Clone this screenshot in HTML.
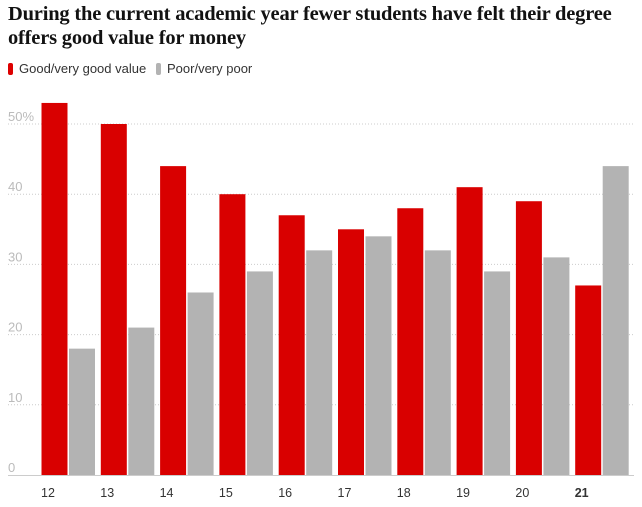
<!DOCTYPE html>
<html><head><meta charset="utf-8"><style>
body{margin:0;background:#fff;width:642px;height:507px;overflow:hidden;font-family:"Liberation Sans",sans-serif}
h1{position:absolute;left:8px;top:2px;margin:0;font-family:"Liberation Serif",serif;font-weight:bold;font-size:20.5px;line-height:24px;color:#121212;width:630px;letter-spacing:-0.2px}
.leg{position:absolute;top:61px;font-size:13px;color:#333;display:flex;align-items:center}
.sw{width:5px;height:12px;border-radius:2px;margin-right:6px;display:inline-block}
</style></head><body>
<h1>During the current academic year fewer students have felt their degree offers good value for money</h1>
<div class="leg" style="left:8px"><span class="sw" style="background:#d00"></span>Good/very good value</div>
<div class="leg" style="left:156px"><span class="sw" style="background:#b3b3b3"></span>Poor/very poor</div>
<svg id="c" width="642" height="507" style="position:absolute;left:0;top:0"></svg>
<script>
const years=["12","13","14","15","16","17","18","19","20","21"];
const good=[53,50,44,40,37,35,38,41,39,27];
const poor=[18,21,26,29,32,34,32,29,31,44];
const ticks=[0,10,20,30,40,50];
const svg=document.getElementById('c');
const NS='http://www.w3.org/2000/svg';
const y=v=>475-v*7.02;
const x0=i=>41.5+i*59.3;
function mk(t,a){const e=document.createElementNS(NS,t);for(const k in a)e.setAttribute(k,a[k]);svg.appendChild(e);return e;}
ticks.forEach(t=>{
  if(t>0){const l=mk('line',{x1:8,x2:634,y1:y(t),y2:y(t),stroke:'#ccc','stroke-dasharray':'1,2'});
  
  }
  const tx=mk('text',{x:8,y:y(t)-3,'font-size':13,fill:'#bbb'});
  tx.textContent=t===50?'50%':t;
  
  
});
const base=mk('line',{x1:8,x2:634,y1:475.5,y2:475.5,stroke:'#ccc'});


years.forEach((yr,i)=>{
  const r=mk('rect',{x:x0(i),y:y(good[i]),width:26,height:475-y(good[i]),fill:'#d90000'});
  
  
  const g=mk('rect',{x:x0(i)+27.5,y:y(poor[i]),width:26,height:475-y(poor[i]),fill:'#b3b3b3'});
  
  
  const t=mk('text',{x:x0(i)-0.5,y:497,'font-size':12.5,fill:'#333','font-weight':i===9?'bold':'normal'});
  t.textContent=yr;
  
  
});
</script>
</body></html>
